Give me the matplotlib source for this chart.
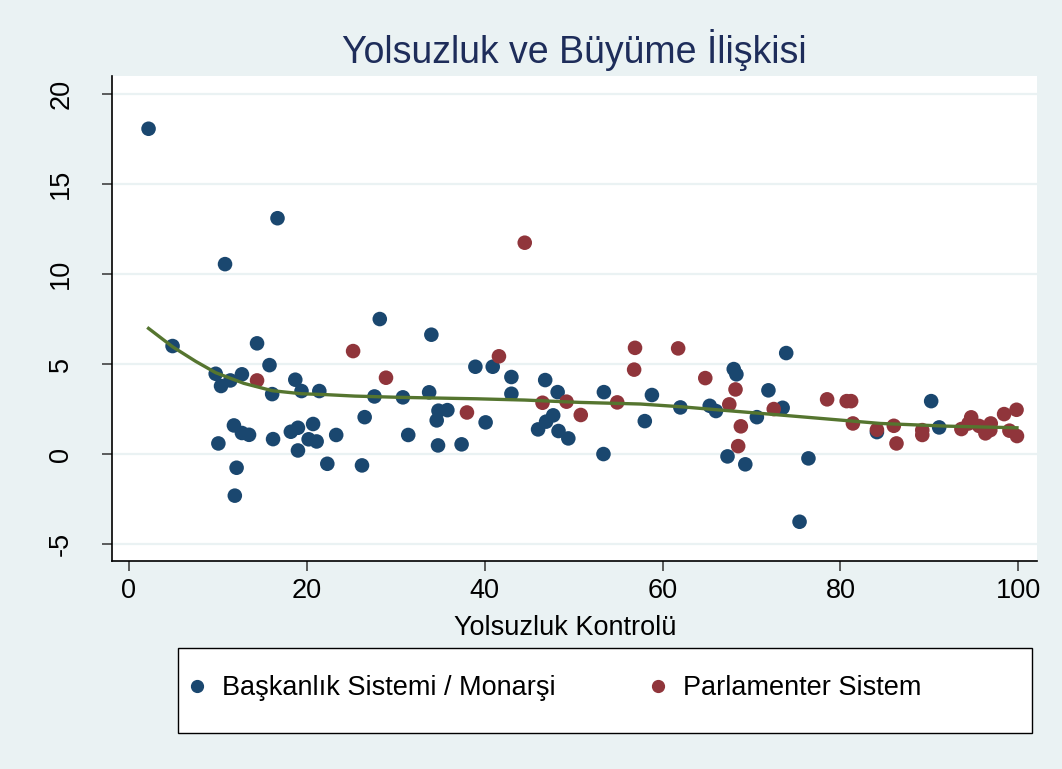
import matplotlib
matplotlib.use("Agg")
import matplotlib.pyplot as plt
from matplotlib.lines import Line2D
from matplotlib.patches import Rectangle

plt.rcParams['font.family'] = ['Liberation Sans', 'DejaVu Sans']

# Başkanlık Sistemi / Monarşi (blue)
bask_x = [2.2, 16.7, 10.8, 28.2, 4.9, 14.4, 15.8, 9.75, 12.7, 11.4, 10.35, 18.7,
          16.1, 19.4, 21.4, 27.6, 30.8, 26.5, 11.8, 12.7, 13.5, 10.05, 16.2, 18.2,
          19.0, 20.7, 20.2, 21.1, 19.0, 23.3, 22.3, 26.2, 12.1, 11.9,
          34.0, 38.95, 40.9, 43.0, 46.8, 33.75, 43.0, 48.2, 53.4, 58.8, 62.0,
          34.8, 35.8, 34.6, 40.1, 31.4, 34.75, 37.4, 47.7, 46.9, 46.0, 48.3, 49.4,
          53.35, 58.0, 73.9, 68.0, 68.3, 71.9, 65.3, 66.0, 70.6, 73.5, 67.3, 69.3,
          76.4, 75.4, 84.1, 90.2, 91.1]
bask_y = [18.07, 13.1, 10.55, 7.5, 6.0, 6.15, 4.94, 4.46, 4.43, 4.09, 3.78, 4.13,
          3.33, 3.5, 3.5, 3.2, 3.15, 2.05, 1.59, 1.17, 1.07, 0.59, 0.83, 1.24,
          1.46, 1.67, 0.82, 0.7, 0.2, 1.06, -0.54, -0.63, -0.76, -2.31,
          6.63, 4.85, 4.85, 4.28, 4.11, 3.43, 3.35, 3.44, 3.44, 3.28, 2.59,
          2.41, 2.44, 1.87, 1.76, 1.06, 0.48, 0.54, 2.15, 1.8, 1.37, 1.28, 0.87,
          0.0, 1.83, 5.61, 4.72, 4.43, 3.54, 2.68, 2.39, 2.05, 2.57, -0.13, -0.57,
          -0.24, -3.76, 1.22, 2.94, 1.48]

# Parlamenter Sistem (red)
parl_x = [25.2, 28.9, 14.4, 44.5, 41.6, 56.9, 61.75, 56.8, 64.8, 46.5, 49.2, 54.9,
          50.8, 38.0, 68.2, 67.5, 72.5, 68.8, 68.5, 78.5, 80.7, 81.2, 81.4, 84.1,
          86.0, 86.3, 89.2, 89.2, 93.6, 94.7, 94.4, 95.6, 96.9, 96.3, 96.85, 98.4,
          99.8, 99.0, 99.85]
parl_y = [5.72, 4.24, 4.09, 11.74, 5.43, 5.9, 5.87, 4.69, 4.22, 2.85, 2.91, 2.87,
          2.17, 2.31, 3.59, 2.76, 2.5, 1.54, 0.44, 3.04, 2.94, 2.94, 1.7, 1.35,
          1.57, 0.59, 1.33, 1.06, 1.39, 2.04, 1.7, 1.56, 1.7, 1.15, 1.33, 2.22,
          2.46, 1.3, 1.0]

# lowess fit line
fit_x = [2.2, 4.9, 7.5, 9.75, 12.9, 16.1, 19.4, 22.2, 25.4, 30.5, 39.1, 44.5,
         50.7, 57.5, 62.0, 64.2, 73.2, 84.5, 92.0, 99.85]
fit_y = [6.98, 5.96, 5.15, 4.52, 3.93, 3.52, 3.35, 3.3, 3.22, 3.15, 3.07, 3.0,
         2.87, 2.78, 2.63, 2.54, 2.17, 1.7, 1.55, 1.46]

x_ticks = [0, 20, 40, 60, 80, 100]
y_ticks = [-5, 0, 5, 10, 15, 20]

title = "Yolsuzluk ve Büyüme İlişkisi"
xlabel = "Yolsuzluk Kontrolü"
lab_bask = "Başkanlık Sistemi / Monarşi"
lab_parl = "Parlamenter Sistem"

blue = "#1A476F"
red = "#90353B"
green = "#55752F"
bg = "#EAF2F3"

W, H = 1062, 769
fig = plt.figure(figsize=(W/100, H/100), dpi=100, facecolor=bg)
ax = fig.add_axes([112/W, 1 - 561/H, (1037-112)/W, (561-76)/H])
ax.set_facecolor("white")

ax.set_xlim(-1.91, 102.1)
ax.set_ylim(-5.94, 21.0)

for yt in y_ticks:
    ax.axhline(yt, color=bg, lw=1.6, zorder=0)

ax.scatter(bask_x, bask_y, s=110, color=blue, edgecolors="none", zorder=2)
ax.scatter(parl_x, parl_y, s=110, color=red, edgecolors="none", zorder=3)
ax.plot(fit_x, fit_y, color=green, lw=2.4, zorder=4)

ax.set_xticks(x_ticks)
ax.set_yticks(y_ticks)
ax.set_yticklabels([str(v) for v in y_ticks], rotation=90, va="center")
ax.tick_params(axis="both", labelsize=19.5, length=7.2, width=1.1, color="#333333",
               labelcolor="black")
ax.tick_params(axis="y", pad=20)
ax.tick_params(axis="x", pad=5)

for sp in ["top", "right"]:
    ax.spines[sp].set_visible(False)
for sp in ["left", "bottom"]:
    ax.spines[sp].set_color("black")
    ax.spines[sp].set_linewidth(1.2)

ax.set_xlabel(xlabel, fontsize=19.5)
ax.xaxis.set_label_coords((565-112)/925, -(627.6-561)/485)
ax.xaxis.label.set_va("center")

fig.text(574.5/W, 1 - 50/H, title, fontsize=27,
         color="#1E2D5A", ha="center", va="center")

# legend frame
fig.patches.append(Rectangle((178/W, 1 - 733/H), (1032-178)/W, (733-648)/H,
                             transform=fig.transFigure, facecolor="white",
                             edgecolor="black", lw=1.0, zorder=0))

handles = [Line2D([], [], marker="o", ls="none", color=blue, markersize=8.5),
           Line2D([], [], marker="o", ls="none", color=red, markersize=8.5)]
leg = fig.legend(handles, [lab_bask, lab_parl], ncol=2,
                 bbox_to_anchor=(186.2/W, 1 - 688/H), loc="center left",
                 fontsize=19.5, frameon=False, borderpad=0, borderaxespad=0,
                 handlelength=0.8, handletextpad=0.52, columnspacing=3.37)

fig.savefig("out.png", dpi=100, facecolor=bg)
